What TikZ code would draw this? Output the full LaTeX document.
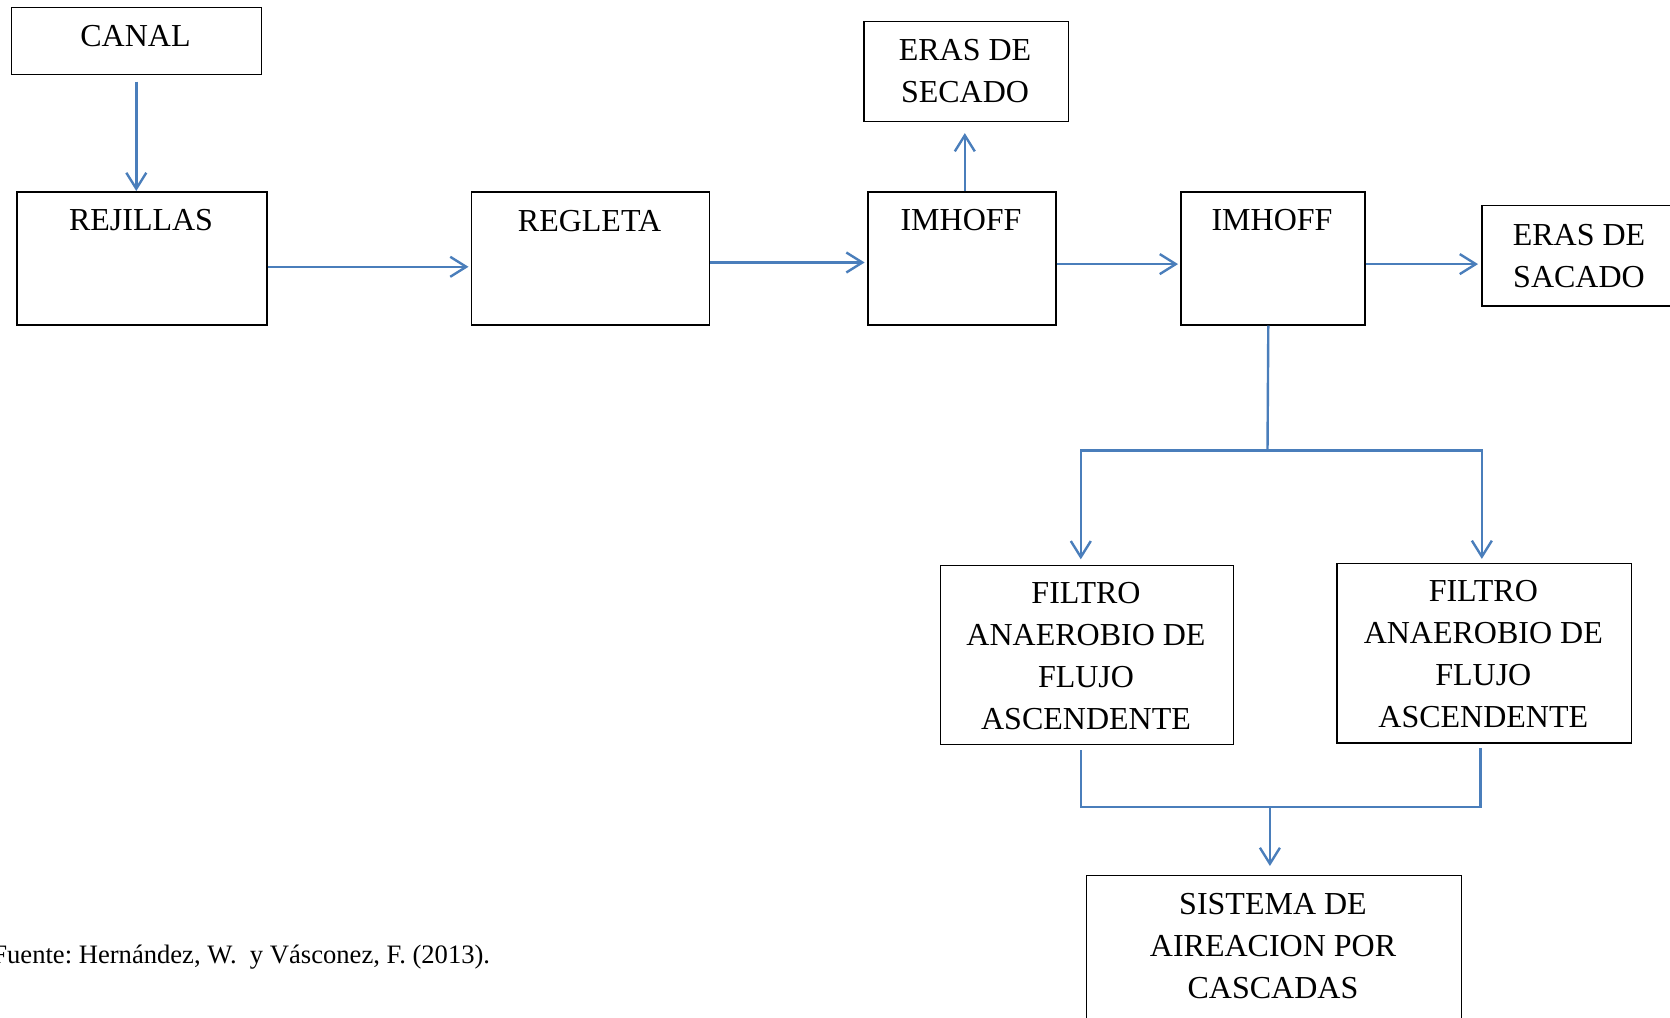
\documentclass[tikz,border=0pt]{standalone}
\usepackage{fontspec}
\setmainfont{Liberation Serif}
\usetikzlibrary{arrows.meta}
\definecolor{flow}{RGB}{74,126,187}
\begin{document}
\begin{tikzpicture}[x=0.5pt,y=-0.5pt,
  box/.style={draw=black, line width=0.8pt, rectangle, inner sep=0pt, anchor=north west},
  lbl/.style={anchor=base, inner sep=0pt, font=\fontsize{16}{21}\selectfont},
  conn/.style={draw=flow, line width=1.2pt},
  arr/.style={conn, -{Straight Barb[length=8pt,width=10pt,line width=1.2pt]}}]
\useasboundingbox (0,0) rectangle (1670,1017);
\clip (0,0) rectangle (1670,1017);
% boxes
\node[box, minimum width=125pt, minimum height=33.5pt] (canal) at (10.5,6.5) {};
\node[box, minimum width=125pt, minimum height=66.5pt] (rej) at (16,191) {};
\node[box, minimum width=119pt, minimum height=66.5pt] (reg) at (470.5,191) {};
\node[box, minimum width=102.25pt, minimum height=50pt] (sec) at (863,20.5) {};
\node[box, minimum width=94pt, minimum height=66.5pt] (imh1) at (867,191) {};
\node[box, minimum width=92pt, minimum height=66.5pt] (imh2) at (1180,191) {};
\node[box, minimum width=104.5pt, minimum height=50.25pt] (sac) at (1481,204.5) {};
\node[box, minimum width=146.5pt, minimum height=89.5pt] (fil1) at (939.5,564.5) {};
\node[box, minimum width=147.25pt, minimum height=89.75pt] (fil2) at (1336,562.5) {};
\node[box, minimum width=187.5pt, minimum height=90pt] (sis) at (1085.5,874.5) {};
% texts
\node[lbl] (tcanal) at (135.5,46.7) {CANAL};
\node[lbl] (trej) at (141,230.5) {REJILLAS};
\node[lbl] (treg) at (589.5,231) {REGLETA};
\node[lbl] (timh1) at (961,230.5) {IMHOFF};
\node[lbl] (timh2) at (1272,230.7) {IMHOFF};
\node[lbl] (tsec) at (965,60) {\begin{tabular}[t]{@{}c@{}}ERAS DE\\SECADO\end{tabular}};
\node[lbl] (tsac) at (1579,245) {\begin{tabular}[t]{@{}c@{}}ERAS DE\\SACADO\end{tabular}};
\node[lbl] (tfil1) at (1086,603.3) {\begin{tabular}[t]{@{}c@{}}FILTRO\\ANAEROBIO DE\\FLUJO\\ASCENDENTE\end{tabular}};
\node[lbl] (tfil2) at (1483.3,601.7) {\begin{tabular}[t]{@{}c@{}}FILTRO\\ANAEROBIO DE\\FLUJO\\ASCENDENTE\end{tabular}};
\node[lbl] (tsis) at (1273,914) {\begin{tabular}[t]{@{}c@{}}SISTEMA DE\\AIREACION POR\\CASCADAS\end{tabular}};
\node[anchor=base west, inner sep=0pt, font=\fontsize{13.3}{16}\selectfont\frenchspacing] (fuente) at (-8,963.5) {Fuente: Hernández, W.\ \ y Vásconez, F. (2013).};
% connectors
\draw[arr, shorten <=3.25pt] (canal.south) -- (canal.south |- rej.north);
\draw[arr, shorten >=1pt] ([yshift=-4.25pt]rej.east) -- ([yshift=-4.25pt]reg.west);
\draw[arr, shorten >=1.2pt] ([yshift=-2.1pt]reg.east) -- ([yshift=-2.1pt]imh1.west);
\draw[arr, shorten >=5.5pt] ([xshift=1.5pt]imh1.north) -- ([xshift=1.5pt]imh1.north |- sec.south);
\draw[arr, shorten >=1pt] ([yshift=-2.9pt]imh1.east) -- ([yshift=-2.9pt]imh2.west);
\draw[arr, shorten >=1.5pt] ([yshift=-2.9pt]imh2.east) -- ([yshift=-2.9pt]imh2.east -| sac.west);
\coordinate (j1) at (1267.5,450.5);
\draw[conn] ([xshift=-2.25pt]imh2.south) -- (j1);
\draw[arr, shorten >=2.6pt] (j1) -| ([xshift=-3pt]fil1.north);
\draw[arr, shorten >=1.8pt] (j1) -| ([xshift=-1.1pt]fil2.north);
\coordinate (j2) at (1269.9,806.7);
\draw[conn, shorten <=2.6pt] ([xshift=-3pt]fil1.south) |- (j2);
\draw[conn, shorten <=2.4pt] ([xshift=-1.8pt]fil2.south) |- (j2);
\draw[arr, shorten >=4.25pt] (j2) -- (j2 |- sis.north);
\end{tikzpicture}
\end{document}
